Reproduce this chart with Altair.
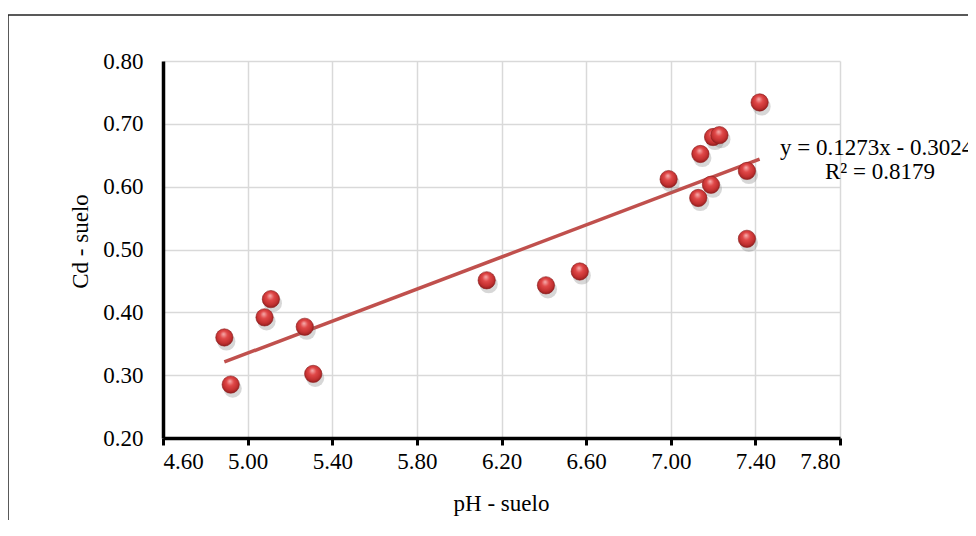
import altair as alt
import pandas as pd

# Data
ph = [4.89, 4.92, 5.08, 5.11, 5.27, 5.31, 6.13, 6.41, 6.57, 6.99, 7.13, 7.14, 7.19, 7.20, 7.23, 7.36, 7.36, 7.42]
cd = [0.360, 0.285, 0.392, 0.421, 0.377, 0.302, 0.451, 0.443, 0.465, 0.612, 0.582, 0.652, 0.603, 0.679, 0.682, 0.625, 0.517, 0.734]
x_ticks = [4.6, 5.0, 5.4, 5.8, 6.2, 6.6, 7.0, 7.4, 7.8]
y_ticks = [0.2, 0.3, 0.4, 0.5, 0.6, 0.7, 0.8]
eq_lines = ["y = 0.1273x - 0.3024", "R² = 0.8179"]

df = pd.DataFrame({"ph": ph, "cd": cd})
FONT = "Liberation Serif"
FS = 23

xs = alt.Scale(domain=[4.6, 7.8], nice=False, zero=False)
ys = alt.Scale(domain=[0.2, 0.8], nice=False, zero=False)

base = alt.Chart(df)

xenc = alt.X("ph:Q", scale=xs, axis=alt.Axis(
    values=x_ticks, format=".2f", title="pH - suelo",
    titleFont=FONT, titleFontSize=FS, titleFontWeight="normal", titleColor="black",
    titleX=338, titleY=65, titleBaseline="middle",
    labelFont=FONT, labelFontSize=FS, labelColor="black", labelPadding=5,
    domainColor="black", domainWidth=3.5, tickColor="black", tickWidth=3, tickSize=7,
    grid=True, gridColor="#d9d9d9", gridWidth=1.5))
yenc = alt.Y("cd:Q", scale=ys, axis=alt.Axis(
    values=y_ticks, format=".2f", title="Cd - suelo",
    titleFont=FONT, titleFontSize=FS, titleFontWeight="normal", titleColor="black",
    titleX=-83, titleY=180, titleAlign="center", titleBaseline="middle", titleAngle=-90,
    labelFont=FONT, labelFontSize=FS, labelColor="black", labelPadding=20,
    domainColor="black", domainWidth=3.5, ticks=False,
    grid=True, gridColor="#d9d9d9", gridWidth=1.5))

trend = base.transform_regression("ph", "cd").mark_line(
    color="#c0504d", strokeWidth=3.5).encode(x=alt.X("ph:Q", scale=xs), y=alt.Y("cd:Q", scale=ys))

shadow = base.mark_circle(size=330, color="#7a7a7a", opacity=0.3, xOffset=2, yOffset=4).encode(
    x=alt.X("ph:Q", scale=xs), y=alt.Y("cd:Q", scale=ys))

grad = alt.RadialGradient(
    gradient="radial",
    stops=[alt.GradientStop(color="#f7b0b0", offset=0),
           alt.GradientStop(color="#e04848", offset=0.35),
           alt.GradientStop(color="#c23030", offset=0.7),
           alt.GradientStop(color="#7e1818", offset=1)],
    x1=0.45, y1=0.3, r1=0, x2=0.5, y2=0.45, r2=0.62)

points = base.mark_point(size=300, filled=True, fill=grad, stroke="#8a1c1c",
                         strokeWidth=0.6, opacity=1, shape="circle").encode(x=xenc, y=yenc)

one = alt.Chart(pd.DataFrame({"a": [0]}))
frame_top = one.mark_rule(color="#222", strokeWidth=1.5).encode(
    x=alt.value(-155), x2=alt.value(820), y=alt.value(-46))
frame_left = one.mark_rule(color="#222", strokeWidth=1.5).encode(
    x=alt.value(-155), y=alt.value(-46), y2=alt.value(520))

eq1 = one.mark_text(text=eq_lines[0], font=FONT, fontSize=FS, color="black",
                    align="left", baseline="middle").encode(x=alt.value(617), y=alt.value(87))
eq2 = one.mark_text(text=eq_lines[1], font=FONT, fontSize=FS, color="black",
                    align="center", baseline="middle").encode(x=alt.value(717), y=alt.value(111))

chart = alt.layer(frame_top, frame_left, trend, shadow, points, eq1, eq2).properties(
    width=677, height=377,
    autosize=alt.AutoSizeParams(type="none"),
    padding={"left": 155, "top": 53, "right": 128, "bottom": 82},
    background="white",
).configure_view(stroke=None)

chart.save("out.html", embed_options={"renderer": "svg", "actions": False})
